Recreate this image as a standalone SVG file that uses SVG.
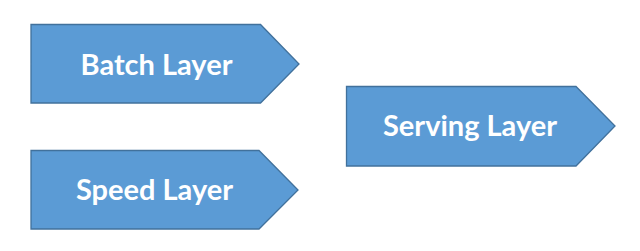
<svg xmlns="http://www.w3.org/2000/svg" width="640" height="251" viewBox="0 0 640 251">
<style>
.shape{fill:#5B9BD5;stroke:#41719C;stroke-width:1.3}
.lbl{fill:#FFFFFF;font-family:Lato,"Open Sans","Liberation Sans",sans-serif;font-weight:bold;font-size:29px;text-anchor:middle}
</style>
<rect width="640" height="251" fill="#FFFFFF"/>
<g id="batch">
<polygon class="shape" points="31,24.5 260.5,24.5 299,64 260.5,103 31,103"/>
<text class="lbl" x="156.5" y="75">Batch Layer</text>
</g>
<g id="speed">
<polygon class="shape" points="31,150.5 259,150.5 298,190 259,229 31,229"/>
<text class="lbl" x="154.5" y="200">Speed Layer</text>
</g>
<g id="serving">
<polygon class="shape" points="346.5,86.5 576,86.5 615,126 576,166 346.5,166"/>
<text class="lbl" x="470" y="136">Serving Layer</text>
</g>
<g id="connectors"></g>
</svg>
